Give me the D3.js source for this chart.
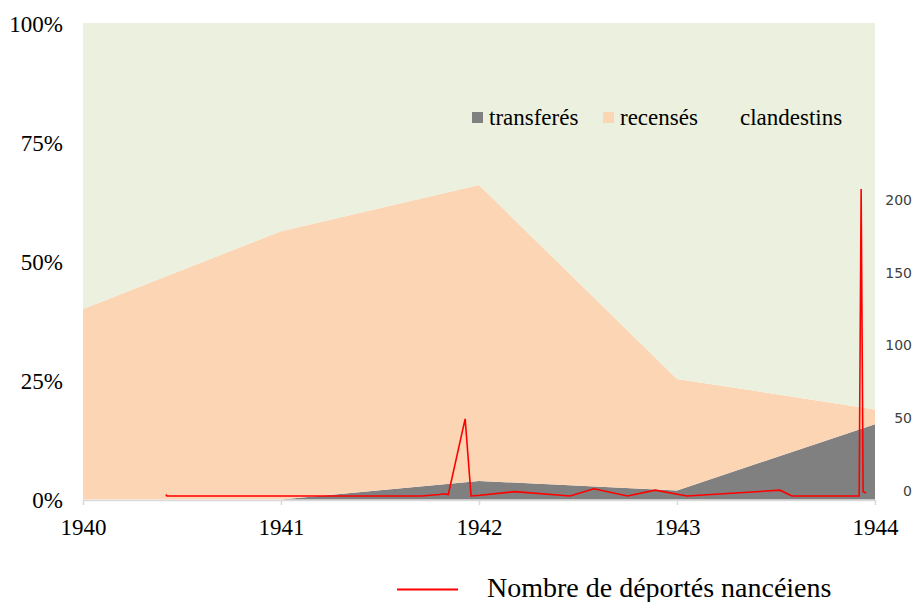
<!DOCTYPE html>
<html>
<head>
<meta charset="utf-8">
<script src="https://cdn.jsdelivr.net/npm/d3@7"></script>
<style>
  body { margin: 0; background: #fff; }
  svg { display: block; }
  .serif { font-family: "Liberation Serif", "DejaVu Serif", serif; }
</style>
</head>
<body>
<div id="chart"></div>
<script>
// Share of each group per year (percent, stacked to 100)
const years = [1940, 1941, 1942, 1943, 1944];
const transferes = [0, 0, 3.9, 1.9, 15.8];
const recenses = [40, 56.3, 62.1, 23.4, 3.1];
const clandestins = [60, 43.7, 34, 74.7, 81.1];

// Red line: deportees from Nancy (x as decimal year, y as count)
const deportDates = [1940.418, 1940.424, 1941.70, 1941.71, 1941.80, 1941.82, 1941.845, 1941.93, 1941.96,
  1942.005, 1942.18, 1942.46, 1942.58, 1942.75, 1942.89, 1943.05, 1943.52, 1943.58,
  1943.92, 1943.93, 1943.94, 1943.955];
const deportCounts = [1, 0, 0, 0, 1, 1.5, 1, 53, 0,
  0.5, 3, 0, 5, 0, 4, 0, 4, 0,
  0, 211, 3, 2];

const pctTicks = [0, 25, 50, 75, 100];
const countTicks = [0, 50, 100, 150, 200];

const seriesKeys = ["transferes", "recenses", "clandestins"];
const seriesColors = { transferes: "#808080", recenses: "#fcd5b5", clandestins: "#ebf1de" };

const width = 915;
const height = 602;
const plotLeft = 83, plotRight = 875, plotTop = 23, plotBottom = 499.5;

const svg = d3.select("#chart").append("svg")
  .attr("width", width)
  .attr("height", height);

const x = d3.scaleLinear().domain([1940, 1944]).range([plotLeft, plotRight]);
const y = d3.scaleLinear().domain([0, 100]).range([plotBottom, plotTop]);
const y2 = d3.scaleLinear().domain([0, 200]).range([496, 205]);

// build the table for the stack
const table = years.map((yr, i) => ({
  year: yr,
  transferes: transferes[i],
  recenses: recenses[i],
  clandestins: clandestins[i]
}));

const stacked = d3.stack().keys(seriesKeys)(table);

const area = d3.area()
  .x(d => x(d.data.year))
  .y0(d => y(d[0]))
  .y1(d => y(d[1]));

svg.append("g")
  .selectAll("path")
  .data(stacked)
  .join("path")
  .attr("d", area)
  .attr("fill", d => seriesColors[d.key]);

// bottom axis
const xAxis = svg.append("g")
  .attr("transform", `translate(0, ${plotBottom + 0.5})`)
  .call(d3.axisBottom(x).tickValues(years).tickFormat(d3.format("d")).tickSize(5).tickSizeOuter(0));
xAxis.attr("font-family", null).attr("font-size", null);
xAxis.select(".domain").attr("stroke", "#d9d9d9").attr("stroke-width", 1.5);
xAxis.selectAll(".tick line").attr("stroke", "#d9d9d9").attr("stroke-width", 1.5);
xAxis.selectAll(".tick text")
  .attr("class", "serif")
  .attr("y", 0)
  .attr("dy", 35)
  .attr("fill", "#000")
  .style("font-size", "23px");

// left axis (percent)
const yAxis = svg.append("g")
  .attr("transform", `translate(${plotLeft}, 0)`)
  .call(d3.axisLeft(y).tickValues(pctTicks).tickFormat(d => d + "%").tickSize(0));
yAxis.attr("font-family", null).attr("font-size", null);
yAxis.select(".domain").remove();
yAxis.selectAll(".tick text")
  .attr("class", "serif")
  .attr("x", -20)
  .attr("dy", "0.36em")
  .attr("fill", "#000")
  .style("font-size", "23px");

// right axis (counts)
const y2Axis = svg.append("g")
  .attr("transform", `translate(912, 0)`)
  .call(d3.axisLeft(y2).tickValues(countTicks).tickSize(0));
y2Axis.attr("font-family", null).attr("font-size", null);
y2Axis.select(".domain").remove();
y2Axis.selectAll(".tick text")
  .attr("x", 0)
  .attr("dy", "-0.05em")
  .attr("fill", "#404040")
  .style("font-family", "'DejaVu Sans', Verdana, sans-serif")
  .style("font-size", "14px");

// red line
const line = d3.line()
  .x((d, i) => x(deportDates[i]))
  .y(d => y2(d));

svg.append("path")
  .datum(deportCounts)
  .attr("d", line)
  .attr("fill", "none")
  .attr("stroke", "#ff0000")
  .attr("stroke-width", 1.6)
  .attr("stroke-linejoin", "miter");

// top legend
const legendItems = [
  { key: "transferes", label: "transferés", x: 472 },
  { key: "recenses", label: "recensés", x: 603 },
  { key: "clandestins", label: "clandestins", x: 723 }
];
const legend = svg.append("g");
legendItems.forEach(item => {
  legend.append("rect")
    .attr("x", item.x)
    .attr("y", 112)
    .attr("width", 11)
    .attr("height", 11)
    .attr("fill", seriesColors[item.key]);
  legend.append("text")
    .attr("class", "serif")
    .attr("x", item.x + 17)
    .attr("y", 125)
    .attr("fill", "#000")
    .style("font-size", "23px")
    .text(item.label);
});

// bottom legend
svg.append("line")
  .attr("x1", 397).attr("x2", 458)
  .attr("y1", 589.5).attr("y2", 589.5)
  .attr("stroke", "#ff0000")
  .attr("stroke-width", 2);
svg.append("text")
  .attr("class", "serif")
  .attr("x", 487)
  .attr("y", 597)
  .attr("fill", "#000")
  .style("font-size", "28px")
  .text("Nombre de déportés nancéiens");
</script>
</body>
</html>
